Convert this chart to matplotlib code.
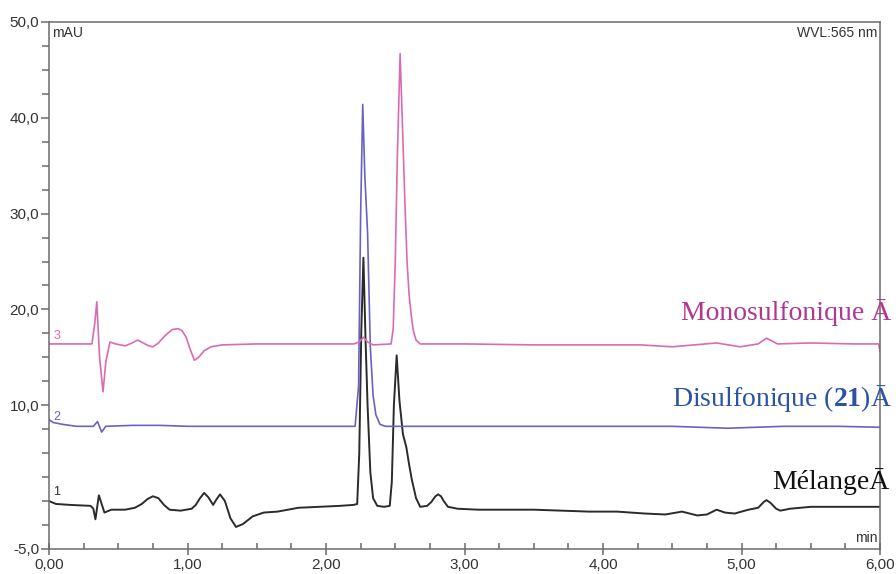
import numpy as np
import matplotlib.pyplot as plt
from matplotlib.ticker import MultipleLocator, FixedLocator

plt.rcParams['font.family'] = ['Liberation Sans', 'DejaVu Sans']
plt.rcParams['mathtext.fontset'] = 'custom'
plt.rcParams['mathtext.bf'] = 'Liberation Serif:bold'
plt.rcParams['mathtext.rm'] = 'Liberation Serif'

# trace 1 : Mélange (black)
t1 = [0.00, 0.05, 0.15, 0.30, 0.32, 0.335, 0.36, 0.40, 0.45, 0.55, 0.62, 0.67, 0.71, 0.75,
      0.79, 0.83, 0.87, 0.95, 1.03, 1.06, 1.09, 1.12, 1.15, 1.185, 1.21, 1.235, 1.27, 1.31,
      1.35, 1.40, 1.47, 1.55, 1.65, 1.80, 1.95, 2.10, 2.20, 2.225, 2.24, 2.255, 2.27, 2.285,
      2.30, 2.32, 2.34, 2.37, 2.42, 2.46, 2.475, 2.49, 2.51, 2.53, 2.555, 2.58, 2.60, 2.62,
      2.65, 2.68, 2.73, 2.76, 2.79, 2.81, 2.83, 2.85, 2.88, 2.95, 3.10, 3.30, 3.50, 3.70,
      3.90, 4.10, 4.30, 4.45, 4.57, 4.68, 4.75, 4.82, 4.88, 4.95, 5.05, 5.12, 5.16, 5.18,
      5.21, 5.25, 5.28, 5.35, 5.50, 5.70, 6.00]
y1 = [0.0, -0.3, -0.4, -0.5, -0.8, -1.9, 0.6, -1.2, -0.9, -0.9, -0.7, -0.3, 0.2, 0.5,
      0.3, -0.4, -0.9, -1.0, -0.8, -0.4, 0.3, 0.85, 0.4, -0.4, 0.2, 0.7, 0.0, -1.8,
      -2.7, -2.4, -1.6, -1.2, -1.1, -0.7, -0.6, -0.5, -0.4, -0.3, 5.0, 18.0, 25.4, 17.0,
      10.0, 3.0, 0.3, -0.5, -0.6, -0.5, 2.0, 10.0, 15.2, 10.5, 7.0, 5.6, 3.8, 2.2,
      0.3, -0.6, -0.5, -0.1, 0.5, 0.7, 0.5, 0.0, -0.6, -0.8, -0.9, -0.9, -0.9, -1.0,
      -1.1, -1.1, -1.3, -1.4, -1.1, -1.5, -1.4, -0.9, -1.2, -1.3, -0.9, -0.7, -0.1, 0.1,
      -0.2, -0.8, -1.0, -0.8, -0.6, -0.6, -0.6]

# trace 2 : Disulfonique (blue)
t2 = [0.00, 0.03, 0.10, 0.20, 0.32, 0.35, 0.38, 0.41, 0.60, 0.80, 1.00, 1.50, 2.00, 2.21,
      2.235, 2.25, 2.265, 2.28, 2.30, 2.32, 2.34, 2.36, 2.39, 2.43, 3.00, 3.50, 4.00, 4.50,
      4.90, 5.30, 5.70, 6.00]
y2 = [8.5, 8.2, 8.0, 7.8, 7.8, 8.3, 7.2, 7.8, 7.9, 7.9, 7.8, 7.8, 7.8, 7.8,
      12.0, 30.0, 41.4, 34.0, 28.0, 16.0, 11.0, 9.0, 8.0, 7.8, 7.8, 7.8, 7.8, 7.8,
      7.6, 7.8, 7.8, 7.7]

# trace 3 : Monosulfonique (magenta)
t3 = [0.00, 0.31, 0.33, 0.345, 0.365, 0.39, 0.41, 0.44, 0.48, 0.55, 0.60, 0.64, 0.68, 0.72,
      0.75, 0.79, 0.84, 0.89, 0.93, 0.96, 0.99, 1.02, 1.05, 1.08, 1.12, 1.17, 1.25, 1.50,
      2.00, 2.20, 2.24, 2.27, 2.30, 2.34, 2.47, 2.485, 2.50, 2.515, 2.535, 2.55, 2.57,
      2.585, 2.60, 2.615, 2.63, 2.65, 2.68, 3.00, 3.50, 4.00, 4.27, 4.50, 4.82, 4.99, 5.12,
      5.18, 5.26, 5.50, 5.80, 5.99, 6.00]
y3 = [16.4, 16.4, 18.5, 20.8, 15.0, 11.4, 14.5, 16.6, 16.4, 16.2, 16.5, 16.8, 16.5, 16.2,
      16.1, 16.5, 17.3, 17.9, 18.0, 17.8, 17.1, 15.8, 14.7, 15.0, 15.7, 16.1, 16.3, 16.4,
      16.4, 16.4, 16.6, 17.1, 16.6, 16.3, 16.4, 18.0, 25.0, 36.0, 46.7, 40.0, 31.0,
      25.0, 21.5, 19.4, 17.8, 16.8, 16.4, 16.4, 16.3, 16.3, 16.3, 16.1, 16.5, 16.1, 16.4,
      17.0, 16.4, 16.5, 16.4, 16.4, 15.6]

xticks = [0, 1, 2, 3, 4, 5, 6]
xlabels = ['0,00', '1,00', '2,00', '3,00', '4,00', '5,00', '6,00']
yticks = [-5, 10, 20, 30, 40, 50]
ylabels = ['-5,0', '10,0', '20,0', '30,0', '40,0', '50,0']

c_black = '#2b2b2b'
c_blue = '#6a62c2'
c_mag = '#d86cb4'

fig = plt.figure(figsize=(8.96, 5.74), dpi=100)
ax = fig.add_axes([0.0547, 0.0436, 0.9275, 0.9181])

ax.plot(t1, y1, color=c_black, lw=1.4)
ax.plot(t2, y2, color=c_blue, lw=1.2)
ax.plot(t3, y3, color=c_mag, lw=1.2)

ax.set_xlim(0, 6)
ax.set_ylim(-5, 50)

ax.xaxis.set_major_locator(FixedLocator(xticks))
ax.set_xticklabels(xlabels)
ax.xaxis.set_minor_locator(MultipleLocator(0.25))
ax.yaxis.set_major_locator(FixedLocator(yticks))
ax.set_yticklabels(ylabels)
ax.yaxis.set_minor_locator(MultipleLocator(2.5))

for s in ax.spines.values():
    s.set_color('#6b6b6b')
    s.set_linewidth(1.1)

ax.tick_params(axis='x', which='major', direction='inout', length=9, width=1.1,
               color='#6b6b6b', labelsize=11, labelcolor='#333333', pad=2)
ax.tick_params(axis='x', which='minor', direction='in', length=4, width=1.1, color='#6b6b6b')
ax.tick_params(axis='y', which='major', direction='out', length=6, width=1.1,
               color='#6b6b6b', labelsize=11, labelcolor='#333333', pad=1)
ax.tick_params(axis='y', which='minor', direction='out', length=5, width=1.1, color='#6b6b6b')

ax.text(0.004, 0.992, 'mAU', transform=ax.transAxes, ha='left', va='top',
        fontsize=10, color='#333333')
ax.text(0.997, 0.992, 'WVL:565 nm', transform=ax.transAxes, ha='right', va='top',
        fontsize=10, color='#333333')
ax.text(0.997, 0.008, 'min', transform=ax.transAxes, ha='right', va='bottom',
        fontsize=10, color='#333333')

ax.text(0.03, 17.2, '3', color=c_mag, fontsize=9, va='center')
ax.text(0.03, 8.8, '2', color=c_blue, fontsize=9, va='center')
ax.text(0.03, 0.9, '1', color=c_black, fontsize=9, va='center')

serif = ['Liberation Serif', 'DejaVu Serif']
fig.text(0.995, 1 - 313 / 574, 'Monosulfonique Ā', ha='right', va='center',
         fontsize=20, color='#b0388f', family=serif)
fig.text(0.995, 1 - 398 / 574, r'Disulfonique ($\mathbf{21}$)Ā', ha='right', va='center',
         fontsize=20, color='#2c52a6', family=serif)
fig.text(0.993, 1 - 482 / 574, 'MélangeĀ', ha='right', va='center',
         fontsize=20, color='#111111', family=serif)

fig.savefig('out.png', dpi=100)
